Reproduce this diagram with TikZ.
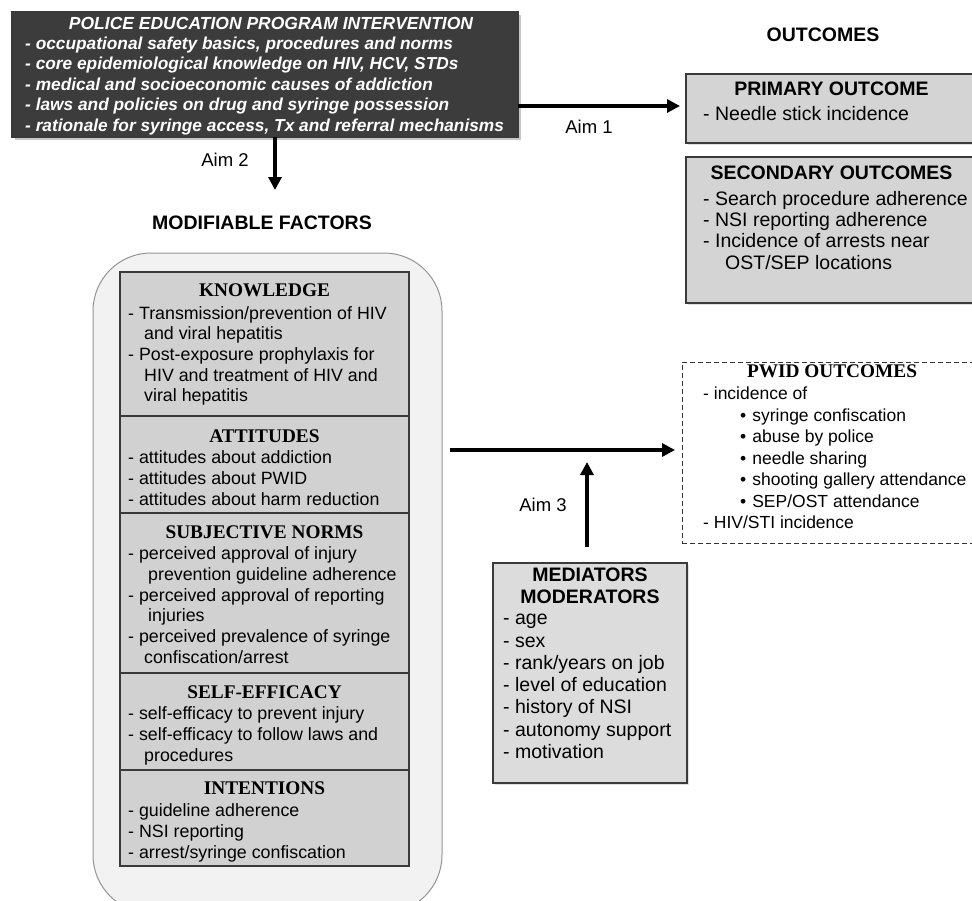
\documentclass[tikz,border=0pt]{standalone}
\usepackage{fontspec}
\setmainfont{Liberation Sans}
\newfontfamily\hdserif{Liberation Serif}
\usepackage{tikz}
\usetikzlibrary{positioning,arrows.meta,shadows}
\usepackage{xcolor}
\definecolor{darkbox}{HTML}{3C3C3C}
\definecolor{boxgray}{HTML}{D4D4D4}
\definecolor{secgray}{HTML}{D1D1D1}
\definecolor{medgray}{HTML}{DCDCDC}
\definecolor{bggray}{HTML}{F2F2F2}
\definecolor{edge}{HTML}{3A3A3A}
\newcommand{\bodyfs}[1]{\fontsize{17.8}{#1}\selectfont}
\newcommand{\bigfs}[1]{\fontsize{19.5}{#1}\selectfont}
\newcommand{\serifhd}{\hdserif\bfseries\fontsize{19.3}{21}\selectfont}
\newcommand{\sanshd}{\bfseries\fontsize{19.5}{22}\selectfont}
\newcommand{\ind}[1]{\hspace*{#1pt}}
\newcommand{\bul}{\ind{37}\textbullet\hspace{6pt}}

\begin{document}
\begin{tikzpicture}[x=1pt,y=-1pt,
  arr/.style={line width=3.2pt,-{Triangle[length=13pt,width=13pt]}},
  box/.style={draw=edge,line width=1.2pt,anchor=north west,inner sep=0pt,outer sep=0pt},
  graybox/.style={box,fill=boxgray,drop shadow={shadow xshift=2pt,shadow yshift=-2pt,opacity=0.25}},
  secbox/.style={box,fill=secgray,minimum width=289pt},
  hd/.style={inner sep=0pt,anchor=north,align=center},
  body/.style={inner sep=0pt,anchor=north west,align=left},
  lbl/.style={inner sep=0pt,font=\fontsize{18.5}{21}\selectfont}]
\useasboundingbox (0,0) rectangle (972,900);
\clip (0,0) rectangle (972,900);

% intervention
\node[box,fill=darkbox,minimum width=506pt,minimum height=125pt,
  drop shadow={shadow xshift=3pt,shadow yshift=-3pt,opacity=0.45}] (prog) at (12,12) {};
\node[hd,text=white,font=\fontsize{17.5}{20.4}\selectfont\bfseries\itshape,below=4.7pt of prog.north,xshift=6pt] (proghd)
  {POLICE EDUCATION PROGRAM INTERVENTION};
\node[body,text=white,font=\fontsize{17.3}{20.4}\selectfont\bfseries\itshape,below right=24.7pt and 13pt of prog.north west] (progtxt)
  {- occupational safety basics, procedures and norms\\
   - core epidemiological knowledge on HIV, HCV, STDs\\
   - medical and socioeconomic causes of addiction\\
   - laws and policies on drug and syringe possession\\
   - rationale for syringe access, Tx and referral mechanisms};

\coordinate (aim2end) at (275,190);
\draw[arr] (prog.south -| aim2end) -- (aim2end);
\node[lbl] (aim2) at (225,160) {Aim 2};

% outcomes
\node[lbl,font=\sanshd] (outhd) at (823,34.5) {OUTCOMES};
\node[graybox,minimum width=291pt,minimum height=69pt] (prim) at (686,74) {};
\node[hd,font=\sanshd,below=8pt of prim.north] (primhd) {PRIMARY OUTCOME};
\node[body,font=\bigfs{21},below right=32pt and 17pt of prim.north west] (primtxt)
  {- Needle stick incidence};

\coordinate (aim1end) at (680,106);
\draw[arr] (prog.east |- aim1end) -- (aim1end);
\node[lbl] (aim1) at (589,127) {Aim 1};

\node[graybox,minimum width=291pt,minimum height=146pt] (sec) at (686,157) {};
\node[hd,font=\sanshd,below=9pt of sec.north] (sechd) {SECONDARY OUTCOMES};
\node[body,font=\bigfs{21.3},below right=34pt and 17pt of sec.north west] (sectxt)
  {- Search procedure adherence\\
   - NSI reporting adherence\\
   - Incidence of arrests near\\
   \ind{22}OST/SEP locations};

% modifiable factors
\node[lbl,font=\sanshd] (modhd) at (262,223) {MODIFIABLE FACTORS};
\node[box,draw=gray!85,line width=1pt,fill=bggray,rounded corners=58pt,
  minimum width=349pt,minimum height=660pt] (bg) at (93,253) {};

\node[secbox,minimum height=144pt] (know) at (120,272) {};
\node[hd,font=\serifhd,below=11.5pt of know.north] (knowhd) {KNOWLEDGE};
\node[body,font=\bodyfs{20.7},below right=34pt and 8pt of know.north west] (knowtxt)
  {- Transmission/prevention of HIV\\
   \ind{16}and viral hepatitis\\
   - Post-exposure prophylaxis for\\
   \ind{16}HIV and treatment of HIV and\\
   \ind{16}viral hepatitis};

\node[secbox,minimum height=97pt,below=0pt of know] (att) {};
\node[hd,font=\serifhd,below=14pt of att.north] (atthd) {ATTITUDES};
\node[body,font=\bodyfs{20.7},below right=34.7pt and 8pt of att.north west] (atttxt)
  {- attitudes about addiction\\
   - attitudes about PWID\\
   - attitudes about harm reduction};

\node[secbox,minimum height=160pt,below=0pt of att] (norm) {};
\node[hd,font=\serifhd,below=12.5pt of norm.north] (normhd) {SUBJECTIVE NORMS};
\node[body,font=\bodyfs{20.7},below right=33.7pt and 8pt of norm.north west] (normtxt)
  {- perceived approval of injury\\
   \ind{20}prevention guideline adherence\\
   - perceived approval of reporting\\
   \ind{20}injuries\\
   - perceived prevalence of syringe\\
   \ind{16}confiscation/arrest};

\node[secbox,minimum height=97pt,below=0pt of norm] (eff) {};
\node[hd,font=\serifhd,below=12.5pt of eff.north] (effhd) {SELF-EFFICACY};
\node[body,font=\bodyfs{20.7},below right=33.7pt and 8pt of eff.north west] (efftxt)
  {- self-efficacy to prevent injury\\
   - self-efficacy to follow laws and\\
   \ind{16}procedures};

\node[secbox,minimum height=96pt,below=0pt of eff] (intent) {};
\node[hd,font=\serifhd,below=11.5pt of intent.north] (intenthd) {INTENTIONS};
\node[body,font=\bodyfs{20.7},below right=33.7pt and 8pt of intent.north west] (intenttxt)
  {- guideline adherence\\
   - NSI reporting\\
   - arrest/syringe confiscation};

% pwid outcomes
\node[box,draw=black!80,dash pattern=on 5pt off 3pt,line width=1pt,fill=white,
  minimum width=300pt,minimum height=181pt] (pwid) at (682,362) {};
\node[hd,font=\serifhd,below=2.5pt of pwid.north] (pwidhd) {PWID OUTCOMES};
\node[body,font=\fontsize{17.5}{21.5}\selectfont,below right=24.7pt and 21pt of pwid.north west] (pwidtxt)
  {- incidence of\\
   \bul syringe confiscation\\
   \bul abuse by police\\
   \bul needle sharing\\
   \bul shooting gallery attendance\\
   \bul SEP/OST attendance\\
   - HIV/STI incidence};

\coordinate (m0) at (450,450);
\draw[arr,shorten >=7pt] (m0) -- (m0 -| pwid.west);

% mediators
\node[box,fill=medgray,minimum width=194pt,minimum height=220pt,
  drop shadow={shadow xshift=2pt,shadow yshift=-2pt,opacity=0.25}] (med) at (493,563) {};
\node[hd,font=\sanshd,below=5pt of med.north] (medhd) {MEDIATORS\\MODERATORS};
\node[body,font=\bigfs{22.3},below right=51pt and 10pt of med.north west] (medtxt)
  {- age\\
   - sex\\
   - rank/years on job\\
   - level of education\\
   - history of NSI\\
   - autonomy support\\
   - motivation};

\coordinate (aim3end) at (587,462);
\draw[arr] (aim3end |- med.north) ++(0,-16) -- (aim3end);
\node[lbl] (aim3) at (543,505) {Aim 3};
\end{tikzpicture}
\end{document}
